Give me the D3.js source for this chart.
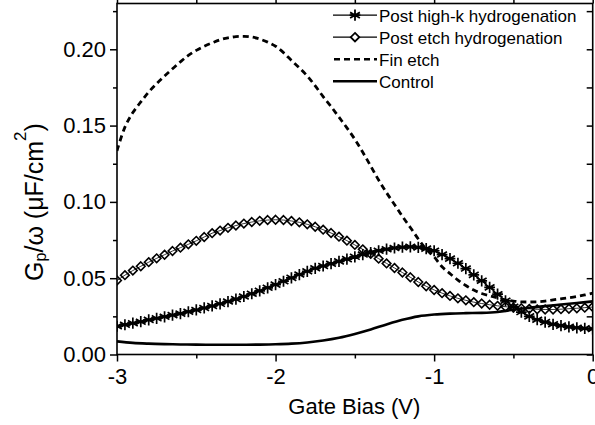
<!DOCTYPE html>
<html>
<head>
<meta charset="utf-8">
<script src="https://cdn.jsdelivr.net/npm/d3@7"></script>
<style>
  html, body { margin: 0; padding: 0; background: #fff; }
  svg { display: block; font-family: "Liberation Sans", Arial, sans-serif; }
</style>
</head>
<body>
<svg id="chart" width="595" height="425"></svg>
<script>
// ---------- DATA ----------
const seriesNames = ["Post high-k hydrogenation", "Post etch hydrogenation", "Fin etch", "Control"];

// Gate bias (V), 0.05 V step
const biasFine = [-3.00,-2.95,-2.90,-2.85,-2.80,-2.75,-2.70,-2.65,-2.60,-2.55,
  -2.50,-2.45,-2.40,-2.35,-2.30,-2.25,-2.20,-2.15,-2.10,-2.05,
  -2.00,-1.95,-1.90,-1.85,-1.80,-1.75,-1.70,-1.65,-1.60,-1.55,
  -1.50,-1.45,-1.40,-1.35,-1.30,-1.25,-1.20,-1.15,-1.10,-1.05,
  -1.00,-0.95,-0.90,-0.85,-0.80,-0.75,-0.70,-0.65,-0.60,-0.55,
  -0.50,-0.45,-0.40,-0.35,-0.30,-0.25,-0.20,-0.15,-0.10,-0.05,0.00];
// Gate bias (V), 0.1 V step
const biasCoarse = [-3.0,-2.9,-2.8,-2.7,-2.6,-2.5,-2.4,-2.3,-2.2,-2.1,
  -2.0,-1.9,-1.8,-1.7,-1.6,-1.5,-1.4,-1.3,-1.2,-1.1,
  -1.0,-0.9,-0.8,-0.7,-0.6,-0.5,-0.4,-0.3,-0.2,-0.1,0.0];

// Gp/ω (µF/cm²)
const highKHydro = [0.0185,0.0195,0.0205,0.0215,0.0227,0.0237,0.0247,0.0258,0.0268,0.0280,
  0.0292,0.0305,0.0318,0.0332,0.0347,0.0363,0.0380,0.0398,0.0417,0.0437,
  0.0458,0.0480,0.0502,0.0524,0.0545,0.0565,0.0580,0.0595,0.0610,0.0625,
  0.0640,0.0655,0.0667,0.0680,0.0690,0.0698,0.0703,0.0705,0.0702,0.0694,
  0.0680,0.0655,0.0628,0.0598,0.0563,0.0522,0.0483,0.0440,0.0395,0.0352,
  0.0312,0.0278,0.0250,0.0228,0.0212,0.0198,0.0189,0.0181,0.0175,0.0171,0.0168];

const etchHydro = [0.0485,0.0520,0.0550,0.0578,0.0605,0.0630,0.0654,0.0678,0.0700,0.0722,
  0.0745,0.0770,0.0795,0.0812,0.0830,0.0845,0.0858,0.0868,0.0876,0.0881,
  0.0883,0.0881,0.0875,0.0866,0.0853,0.0837,0.0818,0.0796,0.0772,0.0746,
  0.0718,0.0689,0.0659,0.0628,0.0597,0.0567,0.0537,0.0506,0.0475,0.0447,
  0.0423,0.0402,0.0384,0.0368,0.0355,0.0343,0.0334,0.0326,0.0319,0.0313,
  0.0308,0.0303,0.0299,0.0296,0.0295,0.0295,0.0297,0.0300,0.0303,0.0307,0.0311];

const finEtch = [0.1335,0.1490,0.1585,0.1655,0.1720,0.1775,0.1825,0.1872,0.1918,0.1960,
  0.1993,0.2020,0.2042,0.2062,0.2075,0.2083,0.2085,0.2080,0.2067,0.2047,
  0.2020,0.1978,0.1927,0.1878,0.1825,0.1760,0.1690,0.1625,0.1555,0.1485,
  0.1410,0.1325,0.1235,0.1143,0.1060,0.0983,0.0905,0.0832,0.0757,0.0690,
  0.0640,0.0575,0.0530,0.0488,0.0452,0.0422,0.0400,0.0385,0.0371,0.0358,
  0.0350,0.0345,0.0344,0.0345,0.0350,0.0358,0.0365,0.0372,0.0380,0.0390,0.0402];

const control = [0.0086,0.0076,0.0071,0.0068,0.0066,0.0065,0.0064,0.0064,0.0064,0.0065,
  0.0067,0.0071,0.0079,0.0092,0.0110,0.0135,0.0164,0.0197,0.0227,0.0250,
  0.0262,0.0268,0.0271,0.0273,0.0279,0.0293,0.0306,0.0317,0.0327,0.0337,0.0348];

const xMajorTicks = [-3, -2, -1, 0];
const xMinorTicks = [-2.5, -1.5, -0.5];
const yMajorTicks = [0, 0.05, 0.10, 0.15, 0.20];
const yMinorTicks = [0.025, 0.075, 0.125, 0.175, 0.225];
const xLabel = "Gate Bias (V)";

// ---------- LAYOUT ----------
const svg = d3.select("#chart");
const L = 117, R = 592.7, T = 3.5, B = 354.5;
const x = d3.scaleLinear().domain([-3, 0]).range([L, R]);
const y = d3.scaleLinear().domain([0, 0.23]).range([B, T]);
const FONT = "'Liberation Sans', Arial, sans-serif";

svg.append("defs").append("clipPath").attr("id", "plotclip")
  .append("rect").attr("x", L).attr("y", T).attr("width", R - L).attr("height", B - T);

const plot = svg.append("g").attr("clip-path", "url(#plotclip)");

const pts = (xs, ys) => xs.map((v, i) => [v, ys[i]]);
const smooth = d3.line().x(d => x(d[0])).y(d => y(d[1])).curve(d3.curveCatmullRom.alpha(0.5));
const straight = d3.line().x(d => x(d[0])).y(d => y(d[1]));

// Control (solid)
plot.append("path").attr("d", smooth(pts(biasCoarse, control)))
  .attr("fill", "none").attr("stroke", "#000").attr("stroke-width", 2.6);

// Fin etch (dashed)
plot.append("path").attr("d", smooth(pts(biasFine, finEtch)))
  .attr("fill", "none").attr("stroke", "#000").attr("stroke-width", 2.8)
  .attr("stroke-dasharray", "6,4");

// Marker shapes
const diamondPath = "M0,-4.3L4.3,0L0,4.3L-4.3,0Z";
const asteriskPath = "M0,-5.6L0,5.6M-4.9,-2.8L4.9,2.8M-4.9,2.8L4.9,-2.8M-5.4,0L5.4,0";

// Post etch hydrogenation (diamonds)
const pe = pts(biasFine, etchHydro);
plot.append("path").attr("d", straight(pe)).attr("fill", "none").attr("stroke", "#000").attr("stroke-width", 0.8);
plot.append("g").selectAll("path").data(pe).join("path")
  .attr("transform", d => `translate(${x(d[0])},${y(d[1])})`)
  .attr("d", diamondPath).attr("fill", "none").attr("stroke", "#000").attr("stroke-width", 1.6);

// Post high-k hydrogenation (asterisks)
const hk = pts(biasFine, highKHydro);
plot.append("path").attr("d", straight(hk)).attr("fill", "none").attr("stroke", "#000").attr("stroke-width", 1.2);
plot.append("g").selectAll("path").data(hk).join("path")
  .attr("transform", d => `translate(${x(d[0])},${y(d[1])})`)
  .attr("d", asteriskPath).attr("fill", "none").attr("stroke", "#000").attr("stroke-width", 1.7);

// ---------- AXES ----------
function styleAxis(g) {
  g.select(".domain").remove();
  g.selectAll("line").attr("stroke", "#000").attr("stroke-width", 1.5);
  g.selectAll("text").attr("font-family", FONT).attr("font-size", 22).attr("fill", "#000");
}
svg.append("g").attr("transform", `translate(0,${B})`)
  .call(d3.axisBottom(x).tickValues(xMajorTicks).tickSize(7).tickPadding(6.5).tickFormat(d => String(d)))
  .call(styleAxis);
svg.append("g").attr("transform", `translate(0,${B})`)
  .call(d3.axisBottom(x).tickValues(xMinorTicks).tickSize(4).tickFormat(""))
  .call(styleAxis);
svg.append("g").attr("transform", `translate(${L},0)`)
  .call(d3.axisLeft(y).tickValues(yMajorTicks).tickSize(7).tickPadding(4).tickFormat(d3.format(".2f")))
  .call(styleAxis);
svg.append("g").attr("transform", `translate(${L},0)`)
  .call(d3.axisLeft(y).tickValues(yMinorTicks).tickSize(4).tickFormat(""))
  .call(styleAxis);
// mirrored top / right
svg.append("g").attr("transform", `translate(0,${T})`)
  .call(d3.axisTop(x).tickValues(xMajorTicks.concat(xMinorTicks)).tickSize(4).tickFormat(""))
  .call(styleAxis);
svg.append("g").attr("transform", `translate(${R},0)`)
  .call(d3.axisRight(y).tickValues(yMajorTicks.concat(yMinorTicks)).tickSize(-6).tickFormat(""))
  .call(styleAxis);

// frame
svg.append("rect").attr("x", L).attr("y", T).attr("width", R - L).attr("height", B - T)
  .attr("fill", "none").attr("stroke", "#000").attr("stroke-width", 1.6);

// axis titles
svg.append("text").attr("x", (L + R) / 2 - 0.5).attr("y", 414)
  .attr("text-anchor", "middle").attr("font-family", FONT).attr("font-size", 22)
  .text(xLabel);

const yt = svg.append("text")
  .attr("transform", "translate(42.5,202) rotate(-90)")
  .attr("text-anchor", "middle").attr("font-family", FONT).attr("font-size", 25);
yt.append("tspan").text("G");
yt.append("tspan").attr("font-size", 16).attr("dy", 3).text("p");
yt.append("tspan").attr("dy", -3).text("/ω (μF/cm");
yt.append("tspan").attr("font-size", 17).attr("dy", -17).text("2");
yt.append("tspan").attr("dy", 17).text(")");

// ---------- LEGEND ----------
const legRows = [21.5, 43.5, 65.5, 87.5];
const lg = svg.append("g");
seriesNames.forEach((name, i) => {
  const cy = legRows[i] - 6.3;
  const row = lg.append("g");
  const ln = row.append("line").attr("x1", 333).attr("x2", 377).attr("y1", cy).attr("y2", cy)
    .attr("stroke", "#000");
  if (i === 0) {
    ln.attr("stroke-width", 1.2);
    row.append("path").attr("transform", `translate(355,${cy})`).attr("d", asteriskPath)
      .attr("fill", "none").attr("stroke", "#000").attr("stroke-width", 1.8);
  } else if (i === 1) {
    ln.attr("stroke-width", 1.2);
    row.append("path").attr("transform", `translate(355,${cy})`).attr("d", diamondPath)
      .attr("fill", "#fff").attr("stroke", "#000").attr("stroke-width", 1.8);
  } else if (i === 2) {
    ln.attr("stroke-width", 2.6).attr("stroke-dasharray", "6,4").attr("x1", 334);
  } else {
    ln.attr("stroke-width", 2.6);
  }
  row.append("text").attr("x", 379).attr("y", legRows[i])
    .attr("font-family", FONT).attr("font-size", 17).text(name);
});
</script>
</body>
</html>
